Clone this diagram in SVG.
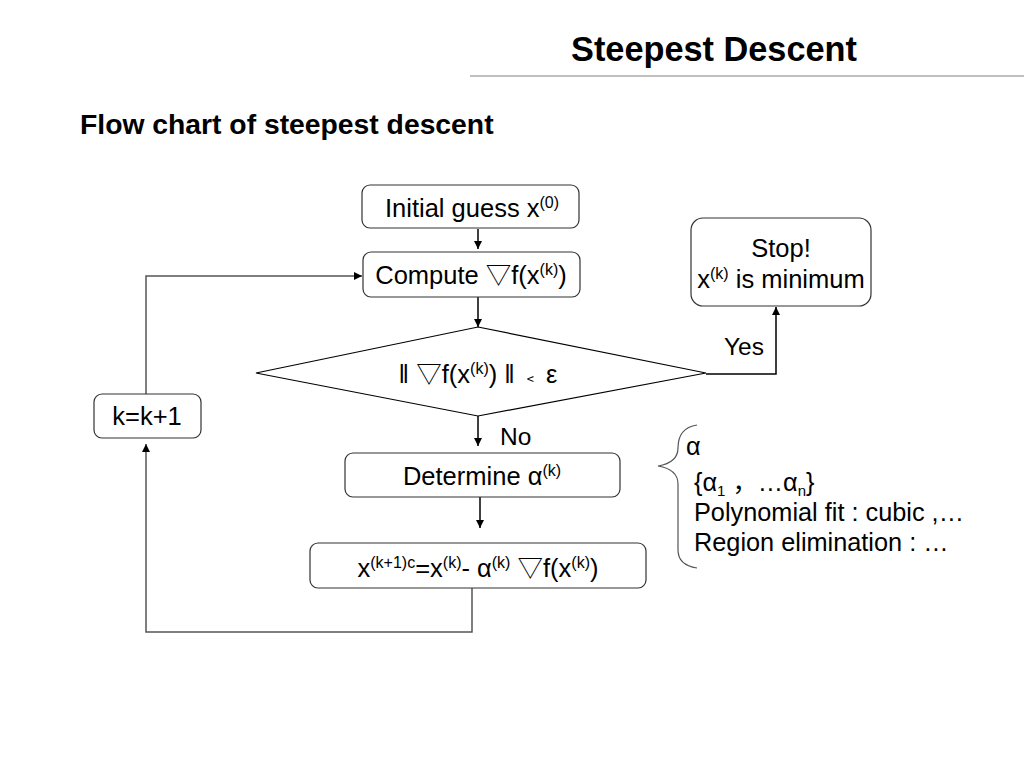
<svg xmlns="http://www.w3.org/2000/svg" width="1024" height="768" viewBox="0 0 1024 768">
<defs>
<marker id="ah" viewBox="0 0 10 10" refX="10" refY="5" markerWidth="8" markerHeight="8" markerUnits="userSpaceOnUse" orient="auto">
<path d="M0,0 L10,5 L0,10 z" fill="#000"/>
</marker>
</defs>
<style>
text{font-family:"Liberation Sans","Noto Sans CJK SC",sans-serif;fill:#000}
.t{font-size:25.5px;text-anchor:middle}
.s{font-size:16px}
.n{font-size:25.3px}
.box{fill:#fff;stroke:#333;stroke-width:1.2}
.ln{fill:none;stroke:#000;stroke-width:1.5}
.lp{fill:none;stroke:#555;stroke-width:1.5}
</style>
<rect width="1024" height="768" fill="#fff"/>
<text x="714" y="61" style="font-size:34.3px;font-weight:bold;text-anchor:middle">Steepest Descent</text>
<line x1="470" y1="76" x2="1024" y2="76" stroke="#aaa" stroke-width="1.5"/>
<text x="80" y="134" style="font-size:28.3px;font-weight:bold">Flow chart of steepest descent</text>

<g id="connectors">
<line class="ln" x1="478" y1="229" x2="478" y2="249" marker-end="url(#ah)"/>
<line class="ln" x1="478" y1="297" x2="478" y2="327" marker-end="url(#ah)"/>
<polyline class="ln" points="706,374 776,374 776,307" marker-end="url(#ah)"/>
<line class="ln" x1="478" y1="416" x2="478" y2="446" marker-end="url(#ah)"/>
<line class="ln" x1="480" y1="497" x2="480" y2="528" marker-end="url(#ah)"/>
<polyline class="lp" points="472,588 472,632 146,632 146,444" marker-end="url(#ah)"/>
<polyline class="lp" points="146,394 146,276 362,276" marker-end="url(#ah)"/>
<text x="744" y="355" style="font-size:24.5px;text-anchor:middle">Yes</text>
<text x="500" y="445" style="font-size:24.5px">No</text>
</g>

<g id="initial">
<rect class="box" x="362" y="185" width="217" height="43" rx="8"/>
<text class="t" x="472" y="217">Initial guess x<tspan class="s" dy="-9">(0)</tspan></text>
</g>
<g id="compute">
<rect class="box" x="363" y="252" width="217" height="45" rx="8"/>
<text class="t" x="471" y="284">Compute ▽f(x<tspan class="s" dy="-9">(k)</tspan><tspan dy="9">)</tspan></text>
</g>
<g id="decision">
<polygon points="478,327 706,373 478,416 256,373" fill="#fff" stroke="#000" stroke-width="1.2"/>
<text class="t" x="478" y="383">‖ ▽f(x<tspan class="s" dy="-9">(k)</tspan><tspan dy="9">) ‖ </tspan><tspan style="font-size:17px">﹤</tspan> ε</text>
</g>
<g id="stop">
<rect class="box" x="691" y="218" width="180" height="88" rx="12"/>
<text class="t" x="781" y="257">Stop!</text>
<text class="t" x="781" y="288">x<tspan class="s" dy="-9">(k)</tspan><tspan dy="9"> is minimum</tspan></text>
</g>
<g id="kinc">
<rect class="box" x="94" y="394" width="107" height="44" rx="8"/>
<text class="t" x="147" y="425">k=k+1</text>
</g>
<g id="determine">
<rect class="box" x="345" y="453" width="275" height="44" rx="8"/>
<text class="t" x="482" y="485">Determine α<tspan class="s" dy="-9">(k)</tspan></text>
</g>
<g id="update">
<rect class="box" x="310" y="543" width="336" height="45" rx="8"/>
<text class="t" x="478" y="577">x<tspan class="s" dy="-9">(k+1)c</tspan><tspan dy="9">=x</tspan><tspan class="s" dy="-9">(k)</tspan><tspan dy="9">- α</tspan><tspan class="s" dy="-9">(k)</tspan><tspan dy="9"> ▽f(x</tspan><tspan class="s" dy="-9">(k)</tspan><tspan dy="9">)</tspan></text>
</g>
<g id="note">
<path d="M697,425 C684,427 678,435 678,448 C678,458 670,464 658,466 C670,468 678,474 678,484 L678,550 C678,560 684,566 697,568" fill="none" stroke="#555" stroke-width="1.2"/>
<text x="686" y="455" class="n">α</text>
<text x="694" y="491" class="n">{α<tspan style="font-size:15px" dy="5">1</tspan><tspan dy="-5"> ，…α</tspan><tspan style="font-size:15px" dy="5">n</tspan><tspan dy="-5">}</tspan></text>
<text x="694" y="521" class="n">Polynomial fit : cubic ,…</text>
<text x="694" y="551" class="n">Region elimination : …</text>
</g>
</svg>
